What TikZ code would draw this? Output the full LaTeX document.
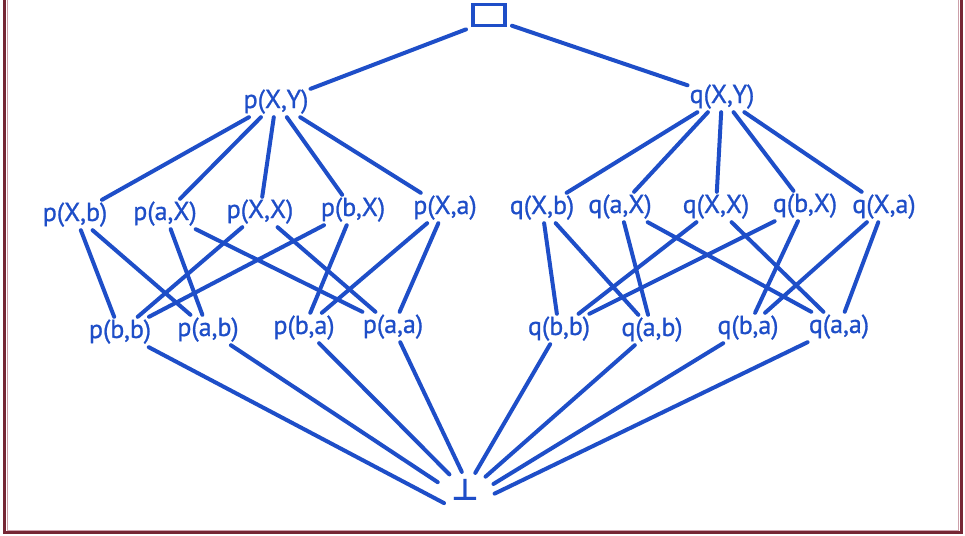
\documentclass[tikz,border=0pt]{standalone}
\usepackage{fontspec}
\newfontfamily\handfont{PT Sans}[FakeBold=0.9]
\newfontfamily\symbolfont{DejaVu Sans}
\usetikzlibrary{shapes.geometric}
\definecolor{ink}{RGB}{30,78,200}
\definecolor{frameRed}{RGB}{118,38,52}
\definecolor{framePink}{RGB}{205,160,170}

\begin{document}
\begin{tikzpicture}[x=1pt,y=-1pt,
  term/.style={text=ink, font=\handfont\fontsize{26}{28}\selectfont,
    inner sep=2pt, text height=19pt, text depth=7pt},
  edge/.style={draw=ink, line width=4pt, line cap=round},
]
\useasboundingbox (0,0) rectangle (965,535);

% frame
\draw[framePink, line width=1pt] (7,-5) -- (7,530) -- (958.5,530) -- (958.5,-5);
\draw[frameRed, line width=3pt] (4.5,-5) -- (4.5,532.5) -- (961,532.5) -- (961,-5);

% top and bottom elements
\node[draw=ink, line width=3.4pt, minimum width=32pt, minimum height=21pt,
      inner sep=0pt, outer sep=7pt] (top) at (489,15) {};
\node[ellipse, minimum width=60pt, minimum height=36pt, inner sep=0pt,
      text=ink, font=\symbolfont\bfseries\fontsize{30}{30}\selectfont] (bot) at (465,490) {⊥};

% most general atoms
\node[term] (pXY) at (276,102) {p(X,Y)};
\node[term] (qXY) at (722,97)  {q(X,Y)};

% one variable bound
\node[term] (pXb) at (75,215)  {p(X,b)};
\node[term] (paX) at (165,214) {p(a,X)};
\node[term] (pXX) at (260,212) {p(X,X)};
\node[term] (pbX) at (353,210) {p(b,X)};
\node[term] (pXa) at (445,208) {p(X,a)};
\node[term] (qXb) at (542,208) {q(X,b)};
\node[term] (qaX) at (620,207) {q(a,X)};
\node[term] (qXX) at (716,207) {q(X,X)};
\node[term] (qbX) at (805,206) {q(b,X)};
\node[term] (qXa) at (884,207) {q(X,a)};

% ground atoms
\node[term] (pbb) at (120,332) {p(b,b)};
\node[term] (pab) at (208,330) {p(a,b)};
\node[term] (pba) at (304,328) {p(b,a)};
\node[term] (paa) at (393,327) {p(a,a)};
\node[term] (qbb) at (559,329) {q(b,b)};
\node[term] (qab) at (652,330) {q(a,b)};
\node[term] (qba) at (748,328) {q(b,a)};
\node[term] (qaa) at (839,327) {q(a,a)};

% lattice edges
\draw[edge] (top.212) -- (pXY);
\draw[edge] (top.-25) -- (qXY);
\foreach \r in {p,q}{
  \foreach \m in {Xb,aX,XX,bX,Xa}
    \draw[edge] (\r XY) -- (\r\m);
  \draw[edge] (\r Xb) -- (\r bb);
  \draw[edge] (\r Xb) -- (\r ab);
  \draw[edge] (\r aX) -- (\r ab);
  \draw[edge] (\r aX) -- (\r aa);
  \draw[edge] (\r XX) -- (\r bb);
  \draw[edge] (\r XX) -- (\r aa);
  \draw[edge] (\r bX) -- (\r bb);
  \draw[edge] (\r bX) -- (\r ba);
  \draw[edge] (\r Xa) -- (\r ba);
  \draw[edge] (\r Xa) -- (\r aa);
}
\draw[edge] (pbb) -- (bot.212);
\draw[edge] (pab) -- (bot.164);
\draw[edge] (pba) -- (bot.135);
\draw[edge] (paa) -- (bot.100);
\draw[edge] (qbb) -- (bot.59);
\draw[edge] (qab) -- (bot.33);
\draw[edge] (qba) -- (bot.12);
\draw[edge] (qaa) -- (bot.-7);
\end{tikzpicture}
\end{document}
